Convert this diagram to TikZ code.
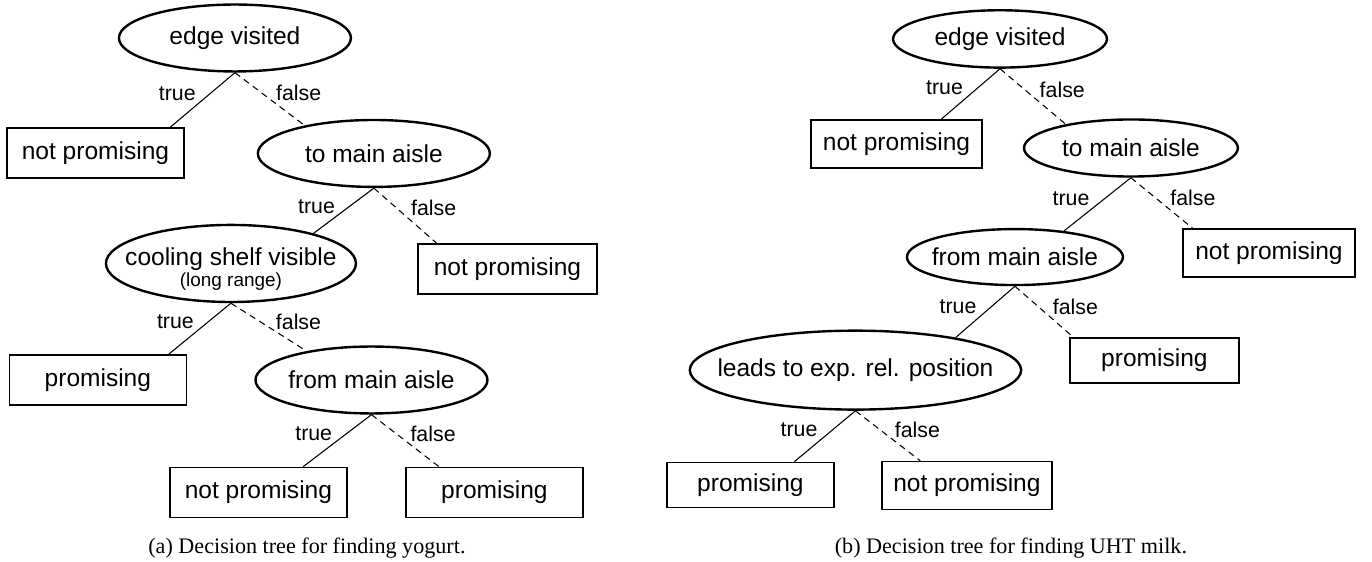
\documentclass[tikz,border=0pt]{standalone}
\usepackage{fontspec}
\setmainfont{Liberation Serif}
\setsansfont{Liberation Sans}
\usepackage{tikz}
\usetikzlibrary{shapes,positioning}
\tikzset{
  decisionNode/.style={
    ellipse,
    draw=black,
    line width=0.9pt,
    inner sep=0pt,
    minimum width=87pt,
    minimum height=25.1pt,
    align=center,
    font=\sffamily\fontsize{9.2}{9}\selectfont
  },
  leafNode/.style={
    rectangle,
    draw=black,
    line width=0.6pt,
    inner sep=0pt,
    minimum width=66.4pt,
    minimum height=18.75pt,
    font=\sffamily\fontsize{9.2}{9}\selectfont
  },
  trueLine/.style={
    line width=0.4pt
  },
  falseLine/.style={
    line width=0.4pt,
    dash pattern=on 2.4pt off 1.8pt
  },
  branchLabel/.style={
    font=\sffamily\fontsize{8}{9}\selectfont
  },
  captionText/.style={
    font=\fontsize{8.3}{10}\selectfont
  }
}

\begin{document}
\begin{tikzpicture}[on grid]
        \useasboundingbox (0,0) rectangle (514.5pt,-210.75pt);

        % (a) yogurt
        \node[decisionNode] (visitedA) at (88.1pt,-14.25pt) {edge visited};
        \node[leafNode, below left=43.1pt and 52.3pt of visitedA] (notPromA1) {not promising};
        \node[decisionNode, below right=43.3pt and 52.1pt of visitedA] (mainAisleA) {to main aisle};
        \node[decisionNode, minimum width=93.75pt, minimum height=28.9pt, inner xsep=-6.5pt, inner ysep=-2pt, below left=41.25pt and 53.6pt of mainAisleA] (coolingA) {\rule{0pt}{11pt}cooling shelf visible\\[-1.2pt]{\fontsize{7.1}{8}\selectfont (long range)}};
        \node[leafNode, minimum width=67.1pt, below right=43.3pt and 50.1pt of mainAisleA] (notPromA2) {not promising};
        \node[leafNode, below left=43.7pt and 49.9pt of coolingA] (promA1) {promising};
        \node[decisionNode, inner xsep=-0.5pt, below right=43.7pt and 52.7pt of coolingA] (fromAisleA) {from main aisle};
        \node[leafNode, below left=42.2pt and 42.4pt of fromAisleA] (notPromA3) {not promising};
        \node[leafNode, below right=42.2pt and 46.1pt of fromAisleA] (promA2) {promising};

        \draw[trueLine] (visitedA.south) -- node[branchLabel, pos=0.38, left=2pt]{true} (notPromA1.19);
        \draw[falseLine] (visitedA.south) -- node[branchLabel, pos=0.38, right=2pt]{false} (mainAisleA.158);
        \draw[trueLine] (mainAisleA.south) -- node[branchLabel, pos=0.4, left=2pt]{true} (coolingA.20);
        \draw[falseLine] (mainAisleA.south) -- node[branchLabel, pos=0.36, right=2pt]{false} (notPromA2.160);
        \draw[trueLine] (coolingA.south) -- node[branchLabel, pos=0.36, left=2pt]{true} (promA1.20);
        \draw[falseLine] (coolingA.south) -- node[branchLabel, pos=0.4, right=2pt]{false} (fromAisleA.156);
        \draw[trueLine] (fromAisleA.south) -- node[branchLabel, pos=0.36, left=2pt]{true} (notPromA3.30);
        \draw[falseLine] (fromAisleA.south) -- node[branchLabel, pos=0.36, right=2pt]{false} (promA2.155);

        \node[captionText] (captionA) at (115.1pt,-205.5pt) {(a) Decision tree for finding yogurt.};

        % (b) UHT milk
        \node[decisionNode, minimum width=80.2pt, minimum height=21.5pt] (visitedB) at (375pt,-14.6pt) {edge visited};
        \node[leafNode, minimum width=64.2pt, minimum height=18pt, below left=39.4pt and 38.8pt of visitedB] (notPromB1) {not promising};
        \node[decisionNode, minimum width=80.2pt, minimum height=21.4pt, below right=40.9pt and 49.1pt of visitedB] (mainAisleB) {to main aisle};
        \node[decisionNode, minimum width=81pt, minimum height=21pt, inner xsep=-2.6pt, below left=40.9pt and 43.5pt of mainAisleB] (fromAisleB) {from main aisle};
        \node[leafNode, minimum width=64.5pt, minimum height=18pt, below right=39.4pt and 51.75pt of mainAisleB] (notPromB2) {not promising};
        \node[decisionNode, minimum width=121.9pt, minimum height=29.6pt, inner xsep=-7.8pt, below left=42.4pt and 59.8pt of fromAisleB] (relPosB) {leads to exp. rel. position};
        \node[leafNode, minimum width=63.4pt, minimum height=16.9pt, below right=38.7pt and 52.3pt of fromAisleB] (promB1) {promising};
        \node[leafNode, minimum width=62.6pt, minimum height=16.9pt, below left=43.1pt and 39.4pt of relPosB] (promB2) {promising};
        \node[leafNode, minimum width=63.75pt, minimum height=18pt, below right=43.3pt and 41.8pt of relPosB] (notPromB3) {not promising};

        \draw[trueLine] (visitedB.south) -- node[branchLabel, pos=0.38, left=2pt]{true} (notPromB1.29);
        \draw[falseLine] (visitedB.south) -- node[branchLabel, pos=0.38, right=2pt]{false} (mainAisleB.160);
        \draw[trueLine] (mainAisleB.south) -- node[branchLabel, pos=0.4, left=2pt]{true} (fromAisleB.28);
        \draw[falseLine] (mainAisleB.south) -- node[branchLabel, pos=0.4, right=2pt]{false} (notPromB2.162);
        \draw[trueLine] (fromAisleB.south) -- node[branchLabel, pos=0.4, left=2pt]{true} (relPosB.18);
        \draw[falseLine] (fromAisleB.south) -- node[branchLabel, pos=0.4, right=2pt]{false} (promB1.164);
        \draw[trueLine] (relPosB.south) -- node[branchLabel, pos=0.38, left=2pt]{true} (promB2.28);
        \draw[falseLine] (relPosB.south) -- node[branchLabel, pos=0.38, right=2pt]{false} (notPromB3.152);

        \node[captionText] (captionB) at (379.1pt,-205.5pt) {(b) Decision tree for finding UHT milk.};

    \end{tikzpicture}
\end{document}
